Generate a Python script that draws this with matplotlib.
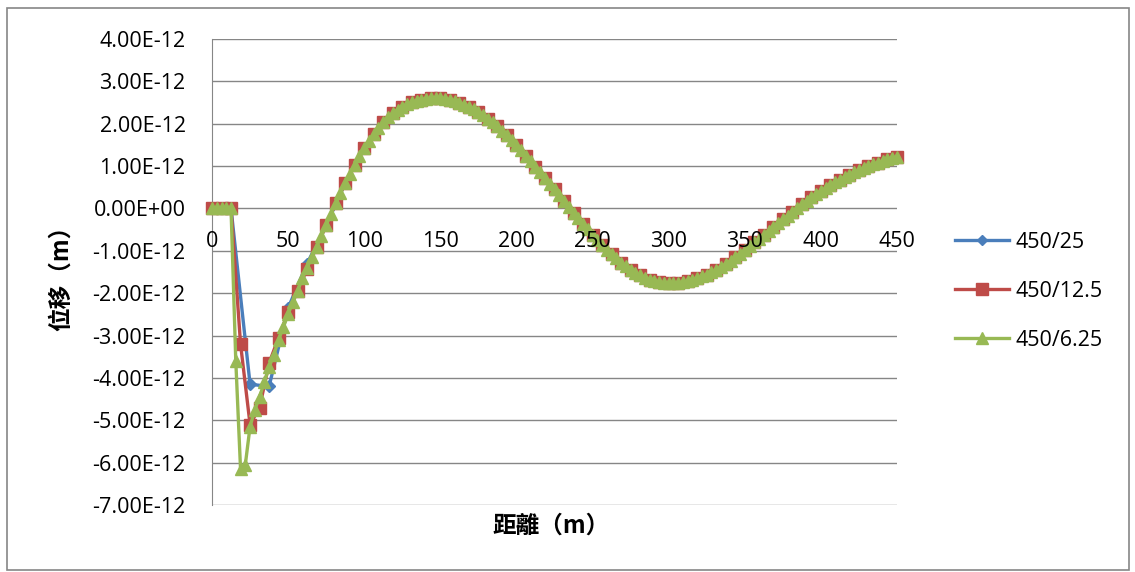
import numpy as np
import matplotlib
matplotlib.use("Agg")
import matplotlib.pyplot as plt
from matplotlib.ticker import FuncFormatter
from matplotlib.lines import Line2D

plt.rcParams['font.family'] = ['Open Sans', 'DejaVu Sans']

# 位移 (×1e-12 m)
disp_25 = [0.00, 0.00, -4.15, -4.20, -2.35, -1.30, -0.40, 0.60, 1.42, 2.03,
           2.40, 2.57, 2.60, 2.49, 2.28, 1.94, 1.50, 0.99, 0.45, -0.10,
           -0.62, -1.08, -1.45, -1.68, -1.77, -1.71, -1.56, -1.31, -0.98, -0.62,
           -0.26, 0.10, 0.41, 0.68, 0.90, 1.08, 1.22]

disp_12_5 = [0.00, 0.00, 0.00, -3.20, -5.10, -4.70, -3.65, -3.05, -2.45, -1.95,
             -1.42, -0.90, -0.40, 0.12, 0.60, 1.03, 1.42, 1.76, 2.03, 2.25,
             2.40, 2.51, 2.57, 2.60, 2.60, 2.56, 2.49, 2.40, 2.28, 2.12,
             1.94, 1.73, 1.50, 1.25, 0.99, 0.72, 0.45, 0.17, -0.10, -0.36,
             -0.62, -0.86, -1.08, -1.28, -1.45, -1.58, -1.68, -1.74, -1.77, -1.76,
             -1.71, -1.64, -1.56, -1.45, -1.31, -1.15, -0.98, -0.80, -0.62, -0.44,
             -0.26, -0.08, 0.10, 0.26, 0.41, 0.55, 0.68, 0.80, 0.90, 1.00,
             1.08, 1.16, 1.22]

disp_6_25 = [0.00, 0.00, 0.00, 0.00, 0.00, -3.60, -6.15, -6.05, -5.15, -4.75,
             -4.45, -4.10, -3.75, -3.45, -3.10, -2.80, -2.50, -2.20, -1.95, -1.65,
             -1.40, -1.15, -0.90, -0.65, -0.40, -0.12, 0.12, 0.36, 0.60, 0.82,
             1.03, 1.23, 1.42, 1.60, 1.76, 1.90, 2.03, 2.15, 2.25, 2.33,
             2.40, 2.46, 2.51, 2.54, 2.57, 2.59, 2.60, 2.60, 2.60, 2.58,
             2.56, 2.53, 2.49, 2.45, 2.40, 2.34, 2.28, 2.20, 2.12, 2.03,
             1.94, 1.84, 1.73, 1.62, 1.50, 1.38, 1.25, 1.12, 0.99, 0.86,
             0.72, 0.58, 0.45, 0.31, 0.17, 0.04, -0.10, -0.23, -0.36, -0.49,
             -0.62, -0.74, -0.86, -0.97, -1.08, -1.18, -1.28, -1.37, -1.45, -1.52,
             -1.58, -1.63, -1.68, -1.71, -1.74, -1.76, -1.77, -1.77, -1.76, -1.74,
             -1.71, -1.68, -1.64, -1.60, -1.56, -1.51, -1.45, -1.38, -1.31, -1.23,
             -1.15, -1.07, -0.98, -0.89, -0.80, -0.71, -0.62, -0.53, -0.44, -0.35,
             -0.26, -0.17, -0.08, 0.01, 0.10, 0.18, 0.26, 0.34, 0.41, 0.48,
             0.55, 0.62, 0.68, 0.74, 0.80, 0.85, 0.90, 0.95, 1.00, 1.04,
             1.08, 1.12, 1.16, 1.19, 1.22]

series_labels = ['450/25', '450/12.5', '450/6.25']
x_ticks = [0, 50, 100, 150, 200, 250, 300, 350, 400, 450]
y_ticks = [-7, -6, -5, -4, -3, -2, -1, 0, 1, 2, 3, 4]

colors = ['#4A7EBB', '#BE4B48', '#98B954']
markers = ['D', 's', '^']
msizes = [6, 8, 9]

fig = plt.figure(figsize=(11.35, 5.72), dpi=100)
ax = fig.add_axes([212 / 1135, 1 - 505 / 572, 685 / 1135, 466 / 572])
ax.set_axisbelow(False)  # tick labels sit on top of the curves

# horizontal gridlines under the curves
for v in y_ticks:
    ax.axhline(v * 1e-12, color='#868686', lw=1, zorder=1)

for vals, lab, c, m, ms in zip([disp_25, disp_12_5, disp_6_25], series_labels,
                              colors, markers, msizes):
    xs = np.linspace(0, 450, len(vals))
    ax.plot(xs, np.array(vals) * 1e-12, color=c, lw=2.4, marker=m, ms=ms,
            mec=c, mfc=c, label=lab, clip_on=False, zorder=2)

ax.set_xlim(0, 450)
ax.set_ylim(-7e-12, 4e-12)
ax.set_xticks(x_ticks)
ax.set_yticks([v * 1e-12 for v in y_ticks])
ax.yaxis.set_major_formatter(FuncFormatter(lambda v, p: f"{v:.2E}"))

for s in ['top', 'right']:
    ax.spines[s].set_visible(False)
ax.spines['bottom'].set_position(('data', 0))
ax.spines['bottom'].set_visible(False)
ax.spines['left'].set_color('#868686')
ax.spines['left'].set_zorder(1)

ax.tick_params(axis='y', length=0, pad=19, labelsize=15.5)
ax.tick_params(axis='x', length=0, pad=16, labelsize=15.5)

fig.text(551 / 1135, 1 - 526 / 572, '距離（m）', ha='center', va='center',
         fontsize=17, fontweight='bold', family=['Noto Sans CJK TC', 'DejaVu Sans'])
fig.text(61 / 1135, 1 - 272 / 572, '位移（m）', ha='center', va='center',
         rotation=90, fontsize=17, fontweight='bold',
         family=['Noto Sans CJK TC', 'DejaVu Sans'])

handles = [Line2D([], [], color=c, lw=2.4, marker=m, ms=ms, mec=c, mfc=c)
           for c, m, ms in zip(colors, markers, [5, 8, 8])]
fig.legend(handles, series_labels, loc='upper left',
           bbox_to_anchor=(955 / 1135, 1 - 232 / 572), frameon=False,
           fontsize=15.5, handlelength=2.5, handletextpad=0.3,
           labelspacing=1.3, borderpad=0, borderaxespad=0)

# outer chart border
fig.add_artist(plt.Rectangle((7 / 1135, 2 / 572), 1122 / 1135, 562 / 572,
                             transform=fig.transFigure, fill=False,
                             ec='#868686', lw=1.2))

fig.savefig('out.png', dpi=100)
